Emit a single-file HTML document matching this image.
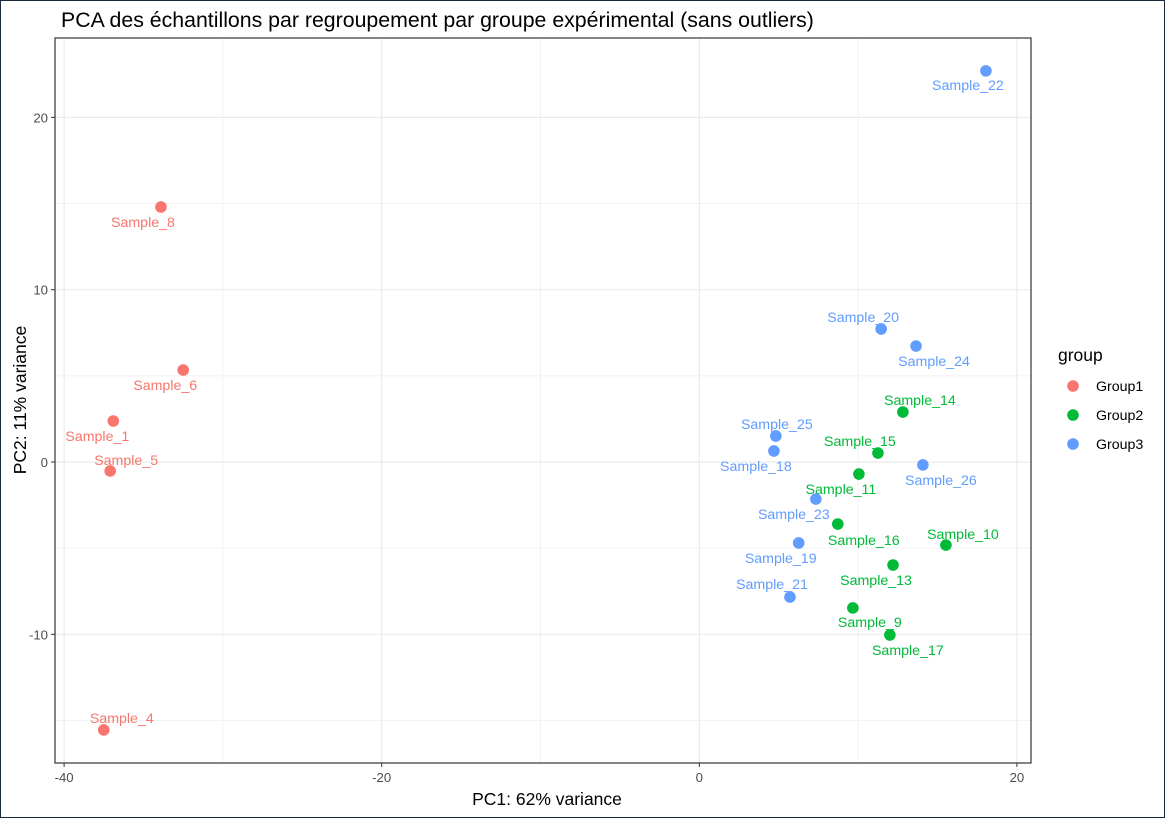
<!DOCTYPE html>
<html><head><meta charset="utf-8"><style>
body{margin:0;background:#fff;}
#wrap{position:relative;width:1165px;height:818px;box-sizing:border-box;border:1px solid #1a2a3a;overflow:hidden;font-family:"Liberation Sans",sans-serif;}
</style></head><body>
<div id="wrap">
<svg id="chart" width="1165" height="818" style="position:absolute;left:-1px;top:-1px"></svg>
</div>
<script>
const samples=["Sample_22","Sample_8","Sample_6","Sample_1","Sample_5","Sample_4","Sample_20","Sample_24","Sample_14","Sample_25","Sample_15","Sample_18","Sample_26","Sample_11","Sample_23","Sample_16","Sample_10","Sample_19","Sample_13","Sample_21","Sample_9","Sample_17"];
const groups=["Group3","Group1","Group1","Group1","Group1","Group1","Group3","Group3","Group2","Group3","Group2","Group3","Group3","Group2","Group3","Group2","Group2","Group3","Group2","Group3","Group2","Group2"];
const pc1=[18.05,-33.9,-32.5,-36.9,-37.1,-37.5,11.45,13.65,12.82,4.82,11.25,4.7,14.08,10.05,7.34,8.72,15.53,6.26,12.2,5.71,9.67,12.0];
const pc2=[22.7,14.8,5.34,2.38,-0.52,-15.55,7.72,6.73,2.9,1.51,0.52,0.64,-0.17,-0.7,-2.15,-3.6,-4.82,-4.7,-5.98,-7.84,-8.47,-10.04];
const labelDx=[-18,-18,-18,-16,16,18,-18,18,17,1,-18,-18,18,-18,-22,26,17,-18,-17,-18,17,18];
const labelDy=[14,15,15,15,-11,-12,-12,15,-12,-12,-12,15,15,15,15,16,-11,15,15,-13,14,15];
const xTicks=[-40,-20,0,20];
const yTicks=[-10,0,10,20];
const xMinor=[-30,-10,10];
const yMinor=[-15,-5,5,15];
const groupNames=["Group1","Group2","Group3"];
const groupColors=["#F8766D","#00BA38","#619CFF"];

const svg=document.getElementById('chart');
const NS="http://www.w3.org/2000/svg";
const PL=55,PR=1031,PT=38,PB=763;
const X=v=>699.3+v*15.88;
const Y=v=>462-v*17.23;
function el(t,a,p){const e=document.createElementNS(NS,t);for(const k in a)e.setAttribute(k,a[k]);(p||svg).appendChild(e);return e;}
function txt(s,a){const e=el('text',a);e.textContent=s;return e;}

const bg=el('rect',{x:PL,y:PT,width:PR-PL,height:PB-PT,fill:'#fff'});


xMinor.forEach(v=>{const l=el('line',{x1:X(v),x2:X(v),y1:PT,y2:PB,stroke:'#f2f2f2','stroke-width':1});

});
yMinor.forEach(v=>{const l=el('line',{x1:PL,x2:PR,y1:Y(v),y2:Y(v),stroke:'#f2f2f2','stroke-width':1});

});
xTicks.forEach(v=>{const l=el('line',{x1:X(v),x2:X(v),y1:PT,y2:PB,stroke:'#ebebeb','stroke-width':1.2});


const tk=el('line',{x1:X(v),x2:X(v),y1:PB,y2:PB+4,stroke:'#333'});


const t=txt(v,{x:X(v),y:PB+19,'text-anchor':'middle','font-size':13.2,fill:'#4d4d4d'});

});
yTicks.forEach(v=>{const l=el('line',{x1:PL,x2:PR,y1:Y(v),y2:Y(v),stroke:'#ebebeb','stroke-width':1.2});


const tk=el('line',{x1:PL-4,x2:PL,y1:Y(v),y2:Y(v),stroke:'#333'});


const t=txt(v,{x:PL-7,y:Y(v)+5,'text-anchor':'end','font-size':13.2,fill:'#4d4d4d'});

});
const border=el('rect',{x:PL,y:PT,width:PR-PL,height:PB-PT,fill:'none',stroke:'#333','stroke-width':1.2});



samples.forEach((s,i)=>{const c=groupColors[groupNames.indexOf(groups[i])];
const p=el('circle',{cx:X(pc1[i]),cy:Y(pc2[i]),r:5.8,fill:c});


const t=txt(s,{x:X(pc1[i])+labelDx[i],y:Y(pc2[i])+labelDy[i]+5,'text-anchor':'middle','font-size':14.2,fill:c});

});

const title=txt('PCA des échantillons par regroupement par groupe expérimental (sans outliers)',{x:61,y:27,'font-size':21.3,fill:'#000'});


const xt=txt('PC1: 62% variance',{x:547,y:805,'text-anchor':'middle','font-size':17.5,fill:'#000'});


const yt=txt('PC2: 11% variance',{x:0,y:0,'text-anchor':'middle','font-size':17.5,fill:'#000',transform:'translate(26,400) rotate(-90)'});


const lt=txt('group',{x:1058,y:361,'font-size':17.5,fill:'#000'});


groupNames.forEach((g,i)=>{const y=386+i*29;
const d=el('circle',{cx:1073,cy:y,r:5.8,fill:groupColors[i]});


const t=txt(g,{x:1096,y:y+5,'font-size':14.2,fill:'#000'});

});
</script>
</body></html>
